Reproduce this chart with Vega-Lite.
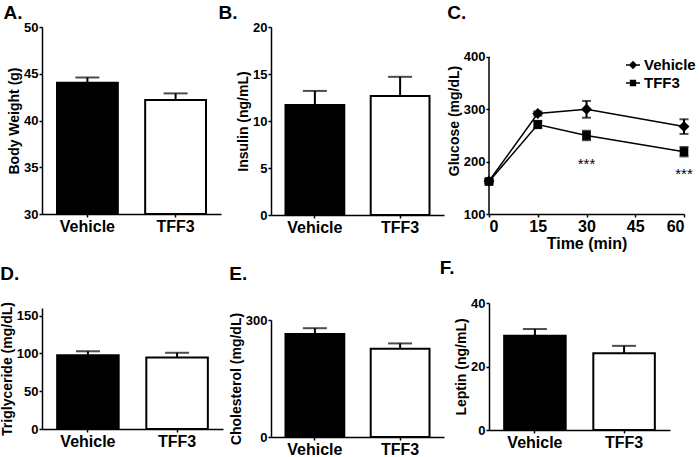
{
  "$schema": "https://vega.github.io/schema/vega-lite/v6.json",
  "padding": {"left": 0, "top": 3, "right": 0, "bottom": 0},
  "background": "white",
  "config": {
    "font": "Liberation Sans",
    "view": {"stroke": null},
    "axis": {
      "domainColor": "black", "domainWidth": 1.5, "tickColor": "black", "tickWidth": 1.5, "tickSize": 3,
      "labelFont": "Liberation Sans", "labelFontWeight": "bold", "labelFontSize": 13, "labelColor": "black",
      "titleFont": "Liberation Sans", "titleFontSize": 14, "titleFontWeight": "bold", "titleColor": "black",
      "grid": false, "labelPadding": 1, "titlePadding": 2
    },
    "axisX": {"labelFontSize": 16, "labelPadding": 1},
    "title": {"fontSize": 19, "fontWeight": "bold", "anchor": "start", "color": "black", "font": "Liberation Sans"}
  },
  "spacing": -5,
  "hconcat": [
    {
      "spacing": 30,
      "vconcat": [
        {
          "title": {"text": "A.", "offset": -2, "dx": -4},
          "width": 179, "height": 187,
          "data": {"values": [{"group": "Vehicle", "mean": 44.05, "err": 44.6}, {"group": "TFF3", "mean": 42.2, "err": 42.9}]},
          "encoding": {"x": {"field": "group", "type": "nominal", "sort": ["Vehicle", "TFF3"], "scale": {"paddingInner": 0.31, "paddingOuter": 0.17}, "axis": {"title": null, "labelAngle": 0}}},
          "layer": [
            {"mark": {"type": "bar", "stroke": "black", "strokeWidth": 2}, "encoding": {"y": {"field": "mean", "type": "quantitative", "title": "Body Weight (g)", "scale": {"domain": [30, 50]}, "axis": {"values": [30, 35, 40, 45, 50]}}, "y2": {"datum": 30}, "fill": {"field": "group", "type": "nominal", "scale": {"domain": ["Vehicle", "TFF3"], "range": ["black", "white"]}, "legend": null}}},
            {"mark": {"type": "rule", "strokeWidth": 2, "color": "black"}, "encoding": {"y": {"field": "mean", "type": "quantitative", "title": "Body Weight (g)"}, "y2": {"field": "err"}}},
            {"mark": {"type": "tick", "size": 24, "thickness": 2, "color": "black"}, "encoding": {"y": {"field": "err", "type": "quantitative", "title": "Body Weight (g)"}}}
          ]
        },
        {
          "title": {"text": "D.", "offset": 18},
          "width": 181, "height": 121,
          "data": {"values": [{"group": "Vehicle", "mean": 97.5, "err": 102.8}, {"group": "TFF3", "mean": 94.6, "err": 100.8}]},
          "encoding": {"x": {"field": "group", "type": "nominal", "sort": ["Vehicle", "TFF3"], "scale": {"paddingInner": 0.31, "paddingOuter": 0.17}, "axis": {"title": null, "labelAngle": 0}}},
          "layer": [
            {"mark": {"type": "bar", "stroke": "black", "strokeWidth": 2}, "encoding": {"y": {"field": "mean", "type": "quantitative", "title": "Triglyceride (mg/dL)", "scale": {"domain": [0, 150]}, "axis": {"values": [0, 50, 100, 150]}}, "y2": {"datum": 0}, "fill": {"field": "group", "type": "nominal", "scale": {"domain": ["Vehicle", "TFF3"], "range": ["black", "white"]}, "legend": null}}},
            {"mark": {"type": "rule", "strokeWidth": 2, "color": "black"}, "encoding": {"y": {"field": "mean", "type": "quantitative", "title": "Triglyceride (mg/dL)"}, "y2": {"field": "err"}}},
            {"mark": {"type": "tick", "size": 24, "thickness": 2, "color": "black"}, "encoding": {"y": {"field": "err", "type": "quantitative", "title": "Triglyceride (mg/dL)"}}}
          ]
        }
      ]
    },
    {
      "spacing": 30,
      "vconcat": [
        {
          "title": {"text": "B.", "offset": -2, "dx": -18},
          "width": 173, "height": 188,
          "data": {"values": [{"group": "Vehicle", "mean": 11.7, "err": 13.2}, {"group": "TFF3", "mean": 12.66, "err": 14.7}]},
          "encoding": {"x": {"field": "group", "type": "nominal", "sort": ["Vehicle", "TFF3"], "scale": {"paddingInner": 0.31, "paddingOuter": 0.17}, "axis": {"title": null, "labelAngle": 0}}},
          "layer": [
            {"mark": {"type": "bar", "stroke": "black", "strokeWidth": 2}, "encoding": {"y": {"field": "mean", "type": "quantitative", "title": "Insulin (ng/mL)", "scale": {"domain": [0, 20]}, "axis": {"values": [0, 5, 10, 15, 20]}}, "y2": {"datum": 0}, "fill": {"field": "group", "type": "nominal", "scale": {"domain": ["Vehicle", "TFF3"], "range": ["black", "white"]}, "legend": null}}},
            {"mark": {"type": "rule", "strokeWidth": 2, "color": "black"}, "encoding": {"y": {"field": "mean", "type": "quantitative", "title": "Insulin (ng/mL)"}, "y2": {"field": "err"}}},
            {"mark": {"type": "tick", "size": 24, "thickness": 2, "color": "black"}, "encoding": {"y": {"field": "err", "type": "quantitative", "title": "Insulin (ng/mL)"}}}
          ]
        },
        {
          "title": {"text": "E.", "offset": 28},
          "width": 173, "height": 117,
          "data": {"values": [{"group": "Vehicle", "mean": 264, "err": 279}, {"group": "TFF3", "mean": 226, "err": 240}]},
          "encoding": {"x": {"field": "group", "type": "nominal", "sort": ["Vehicle", "TFF3"], "scale": {"paddingInner": 0.31, "paddingOuter": 0.17}, "axis": {"title": null, "labelAngle": 0}}},
          "layer": [
            {"mark": {"type": "bar", "stroke": "black", "strokeWidth": 2}, "encoding": {"y": {"field": "mean", "type": "quantitative", "title": "Cholesterol (mg/dL)", "scale": {"domain": [0, 300]}, "axis": {"values": [0, 100, 200, 300]}}, "y2": {"datum": 0}, "fill": {"field": "group", "type": "nominal", "scale": {"domain": ["Vehicle", "TFF3"], "range": ["black", "white"]}, "legend": null}}},
            {"mark": {"type": "rule", "strokeWidth": 2, "color": "black"}, "encoding": {"y": {"field": "mean", "type": "quantitative", "title": "Cholesterol (mg/dL)"}, "y2": {"field": "err"}}},
            {"mark": {"type": "tick", "size": 24, "thickness": 2, "color": "black"}, "encoding": {"y": {"field": "err", "type": "quantitative", "title": "Cholesterol (mg/dL)"}}}
          ]
        }
      ]
    },
    {
      "spacing": 8,
      "vconcat": [
        {
          "title": {"text": "C.", "offset": 4.5},
          "width": 195, "height": 187,
          "data": {"values": [
            {"time": 0, "group": "Vehicle", "mean": 163, "lo": 159, "hi": 167},
            {"time": 15, "group": "Vehicle", "mean": 292, "lo": 288, "hi": 296},
            {"time": 30, "group": "Vehicle", "mean": 300, "lo": 284, "hi": 316},
            {"time": 60, "group": "Vehicle", "mean": 267, "lo": 253, "hi": 281},
            {"time": 0, "group": "TFF3", "mean": 162, "lo": 158, "hi": 166},
            {"time": 15, "group": "TFF3", "mean": 271, "lo": 264, "hi": 278},
            {"time": 30, "group": "TFF3", "mean": 250, "lo": 241, "hi": 259},
            {"time": 60, "group": "TFF3", "mean": 219, "lo": 210, "hi": 228}
          ]},
          "layer": [
            {"mark": {"type": "line", "color": "black", "strokeWidth": 1.5}, "encoding": {
              "x": {"field": "time", "type": "quantitative", "title": "Time (min)", "scale": {"domain": [0, 60]}, "axis": {"values": [0, 15, 30, 45, 60], "titlePadding": 1, "titleFontSize": 16}},
              "y": {"field": "mean", "type": "quantitative", "title": "Glucose (mg/dL)", "scale": {"domain": [100, 457.3], "nice": false, "zero": false}, "axis": {"values": [100, 200, 300, 400], "domain": false}},
              "detail": {"field": "group"}}},
            {"data": {"values": [{"time": 0, "lo": 100, "hi": 400}]},
             "mark": {"type": "rule", "strokeWidth": 1.5, "color": "black"}, "encoding": {"x": {"field": "time", "type": "quantitative"}, "y": {"field": "lo", "type": "quantitative"}, "y2": {"field": "hi"}}},
            {"mark": {"type": "rule", "strokeWidth": 2, "color": "black"}, "encoding": {"x": {"field": "time", "type": "quantitative"}, "y": {"field": "lo", "type": "quantitative"}, "y2": {"field": "hi"}}},
            {"mark": {"type": "tick", "orient": "horizontal", "size": 9, "thickness": 2, "color": "black"}, "encoding": {"x": {"field": "time", "type": "quantitative"}, "y": {"field": "lo", "type": "quantitative"}}},
            {"mark": {"type": "tick", "orient": "horizontal", "size": 9, "thickness": 2, "color": "black"}, "encoding": {"x": {"field": "time", "type": "quantitative"}, "y": {"field": "hi", "type": "quantitative"}}},
            {"mark": {"type": "point", "filled": true, "opacity": 1, "color": "black"}, "encoding": {
              "x": {"field": "time", "type": "quantitative"}, "y": {"field": "mean", "type": "quantitative"},
              "shape": {"field": "group", "type": "nominal", "scale": {"domain": ["Vehicle", "TFF3"], "range": ["diamond", "square"]}, "legend": null},
              "size": {"field": "group", "type": "nominal", "scale": {"domain": ["Vehicle", "TFF3"], "range": [120, 75]}, "legend": null}}},
            {"mark": {"type": "point", "filled": true, "opacity": 0, "color": "black"}, "encoding": {
              "x": {"field": "time", "type": "quantitative"}, "y": {"field": "mean", "type": "quantitative"},
              "shape": {"field": "group", "type": "nominal", "title": null,
                "scale": {"domain": ["Vehicle", "TFF3"], "range": ["M-1,-0.12L1,-0.12L1,0.12L-1,0.12ZM0,-0.6L0.6,0L0,0.6L-0.6,0Z", "M-1,-0.12L1,-0.12L1,0.12L-1,0.12ZM-0.45,-0.45L0.45,-0.45L0.45,0.45L-0.45,0.45Z"]},
                "legend": {"orient": "none", "legendX": 136, "legendY": 30, "symbolSize": 196, "symbolFillColor": "black", "symbolOpacity": 1, "labelFont": "Liberation Sans", "labelFontWeight": "bold", "labelFontSize": 15, "labelColor": "black", "labelOffset": 3, "rowPadding": 2, "padding": 0}}}},
            {"data": {"values": [{"time": 30, "y": 195, "label": "***"}, {"time": 60, "y": 177, "label": "***"}]},
             "mark": {"type": "text", "fontSize": 15, "color": "black"}, "encoding": {"x": {"field": "time", "type": "quantitative"}, "y": {"field": "y", "type": "quantitative"}, "text": {"field": "label"}}}
          ],
          "resolve": {"scale": {"shape": "independent", "size": "independent"}}
        },
        {
          "title": {"text": "F.", "offset": 19, "align": "right"},
          "width": 181, "height": 127,
          "data": {"values": [{"group": "Vehicle", "mean": 29.7, "err": 31.8}, {"group": "TFF3", "mean": 24.2, "err": 26.5}]},
          "encoding": {"x": {"field": "group", "type": "nominal", "sort": ["Vehicle", "TFF3"], "scale": {"paddingInner": 0.31, "paddingOuter": 0.17}, "axis": {"title": null, "labelAngle": 0}}},
          "layer": [
            {"mark": {"type": "bar", "stroke": "black", "strokeWidth": 2}, "encoding": {"y": {"field": "mean", "type": "quantitative", "title": "Leptin (ng/mL)", "scale": {"domain": [0, 40]}, "axis": {"values": [0, 10, 20, 30, 40]}}, "y2": {"datum": 0}, "fill": {"field": "group", "type": "nominal", "scale": {"domain": ["Vehicle", "TFF3"], "range": ["black", "white"]}, "legend": null}}},
            {"mark": {"type": "rule", "strokeWidth": 2, "color": "black"}, "encoding": {"y": {"field": "mean", "type": "quantitative", "title": "Leptin (ng/mL)"}, "y2": {"field": "err"}}},
            {"mark": {"type": "tick", "size": 24, "thickness": 2, "color": "black"}, "encoding": {"y": {"field": "err", "type": "quantitative", "title": "Leptin (ng/mL)"}}}
          ]
        }
      ]
    }
  ]
}
